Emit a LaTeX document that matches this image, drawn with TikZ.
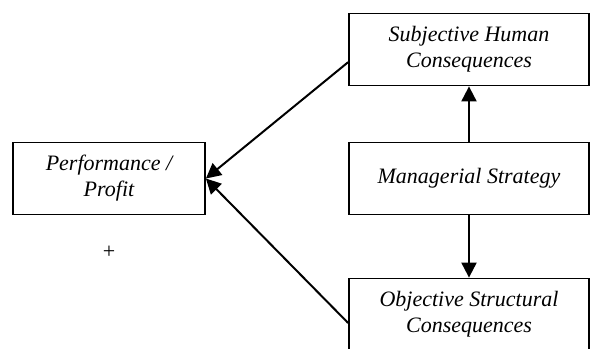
\documentclass[tikz,border=0pt]{standalone}
\usepackage{fontspec}
\setmainfont{Liberation Serif}
\usepackage{tikz}
\usetikzlibrary{arrows.meta}
\tikzstyle{factor} = [draw=black, line width=0.9pt,
                      rectangle, align=center,
                      font=\fontsize{11}{13}\selectfont\itshape,
                      minimum width=120pt, minimum height=36pt]
\tikzstyle{outcome} = [factor, minimum width=96pt]
\tikzstyle{link} = [line width=1pt, -{Triangle[length=7.5pt, width=7.5pt]}]

\begin{document}
\begin{tikzpicture}[x=0.5pt, y=-0.5pt]%
  \clip (0,0) rectangle (594,348);
  \node [outcome] (perf) at (109,178.5) {Performance /\\ Profit};
  \node [factor] (human) at (469,49.5) {Subjective Human\\ Consequences};
  \node [factor] (strategy) at (469,178.5) {Managerial Strategy};
  \node [factor] (structural) at (469,314.5) {Objective Structural\\ Consequences};
  \node [font=\fontsize{11}{13}\selectfont] (plus) at (109,252) {+};
  \draw [link] (strategy) -- (human);
  \draw [link] (strategy) -- (structural);
  \draw [link] (human.186) -- (perf.east);
  \draw [link] (structural.184) -- (perf.east);
\end{tikzpicture}
\end{document}
